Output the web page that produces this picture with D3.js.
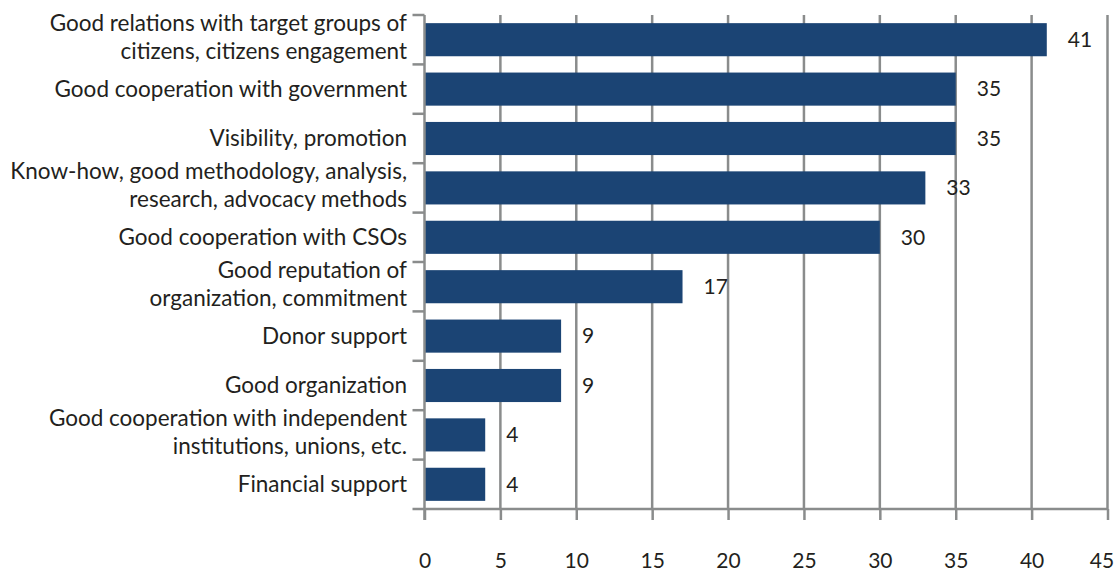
<!DOCTYPE html>
<html>
  <head>
    <meta charset="utf-8">
    <title>Bar Chart</title>
    <script src="https://cdn.jsdelivr.net/npm/d3@7"></script>
    <style>
body {
  margin: 0;
  background: #fff;
}

svg text {
  font-family: Lato, "Open Sans", sans-serif;
  fill: #231f20;
}

.grid line, .axis line, .axis path {
  stroke: #8a8c8c;
  stroke-width: 2.5px;
}

.bar {
  fill: #1b4474;
}
    </style>
  </head>
  <body>
    <script>

var categories = [
  ["Good relations with target groups of", "citizens, citizens engagement"],
  ["Good cooperation with government"],
  ["Visibility, promotion"],
  ["Know-how, good methodology, analysis,", "research, advocacy methods"],
  ["Good cooperation with CSOs"],
  ["Good reputation of", "organization, commitment"],
  ["Donor support"],
  ["Good organization"],
  ["Good cooperation with independent", "institutions, unions, etc."],
  ["Financial support"]
];

var values = [41, 35, 35, 33, 30, 17, 9, 9, 4, 4];

var xTicks = [0, 5, 10, 15, 20, 25, 30, 35, 40, 45];

var w = 1116,
    h = 572,
    pLeft = 424.5,
    pRight = 1107.5,
    pTop = 15,
    pBottom = 509;

var x = d3.scaleLinear().domain([0, 45]).range([pLeft, pRight]);

var y = d3.scaleBand()
    .domain(d3.range(categories.length))
    .range([pTop, pBottom])
    .paddingInner(0.33)
    .paddingOuter(0.165);

var svg = d3.select("body").append("svg")
    .attr("width", w)
    .attr("height", h);

// vertical gridlines
svg.append("g")
    .attr("class", "grid")
  .selectAll("line")
    .data(xTicks.slice(1))
  .enter().append("line")
    .attr("x1", x)
    .attr("x2", x)
    .attr("y1", pTop)
    .attr("y2", pBottom);

svg.selectAll("rect.bar")
    .data(values)
  .enter().append("rect")
    .attr("class", "bar")
    .attr("x", x(0))
    .attr("y", function(d, i) { return y(i); })
    .attr("width", function(d) { return x(d) - x(0); })
    .attr("height", y.bandwidth());

// x axis
var xAxis = svg.append("g")
    .attr("class", "axis")
    .attr("transform", "translate(0," + pBottom + ")")
    .call(d3.axisBottom(x).tickValues(xTicks).tickSize(11).tickSizeOuter(0).tickPadding(41));

xAxis.select(".domain").attr("d", "M" + (pLeft - 12) + ",0H" + pRight);
xAxis.selectAll("text")
    .style("font-size", "21px")
    .attr("dy", "0.32em")
    .attr("dx", function(d) { return d === 45 ? -6 : 0; });

// y axis: line with tick marks between categories
var yAxis = svg.append("g").attr("class", "axis");

yAxis.append("line")
    .attr("x1", pLeft)
    .attr("x2", pLeft)
    .attr("y1", pTop)
    .attr("y2", pBottom + 11);

var step = y.step();
yAxis.selectAll("line.tick")
    .data(d3.range(categories.length))
  .enter().append("line")
    .attr("class", "tick")
    .attr("x1", pLeft - 12)
    .attr("x2", pLeft)
    .attr("y1", function(d) { return pTop + d * step; })
    .attr("y2", function(d) { return pTop + d * step; });

// category labels
var labels = svg.selectAll("text.cat")
    .data(categories)
  .enter().append("text")
    .attr("class", "cat")
    .attr("text-anchor", "end")
    .style("font-size", "22.5px")
    .attr("transform", function(d, i) {
      var c = pTop + (i + 0.5) * step;
      var off = d.length > 1 ? -3 - 14 : 0;
      return "translate(407," + (c + off) + ")";
    });

labels.selectAll("tspan")
    .data(function(d) { return d; })
  .enter().append("tspan")
    .attr("x", 0)
    .attr("y", function(d, i) { return i * 28; })
    .attr("dy", "0.35em")
    .text(function(d) { return d; });

// value labels
svg.selectAll("text.val")
    .data(values)
  .enter().append("text")
    .attr("class", "val")
    .style("font-size", "21px")
    .attr("x", function(d) { return x(d) + 21; })
    .attr("y", function(d, i) { return y(i) + y.bandwidth() / 2; })
    .attr("dy", "0.35em")
    .text(function(d) { return d; });

    </script>
  </body>
</html>
